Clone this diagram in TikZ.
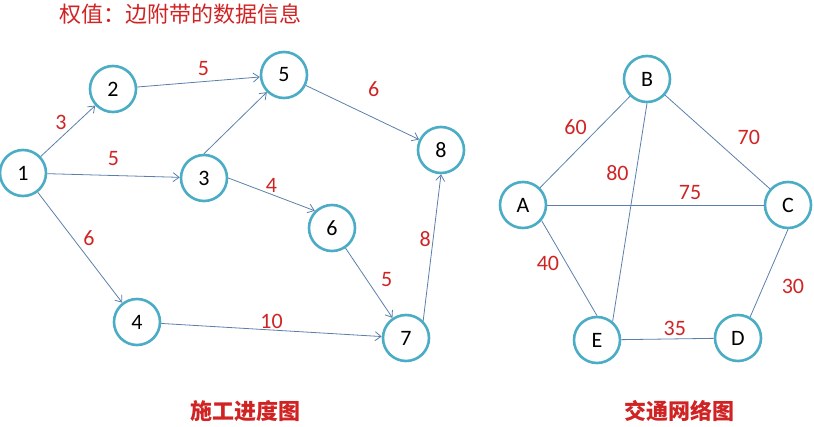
\documentclass[tikz,border=0pt]{standalone}
\usepackage{fontspec}
\setmainfont{Carlito}
\newfontfamily\cjk{Noto Sans CJK SC}
\usetikzlibrary{positioning,arrows.meta}
\definecolor{ring}{HTML}{4BACC6}
\definecolor{edgeblue}{HTML}{5B7FAA}
\definecolor{wtred}{HTML}{D02424}
\begin{document}
\begin{tikzpicture}[x=1pt, y=-1pt, vertex/.style={circle, draw = ring, line width = 2.6pt, minimum size = 46pt, inner sep = 0pt, font = \fontsize{22}{22}\selectfont}, arc/.style={draw = edgeblue, line width = .8pt, -{Straight Barb[length=6pt, width=9pt]}}, link/.style={draw = edgeblue, line width = .8pt}, wt/.style={text = wtred, inner sep = 1pt, font = \fontsize{22}{22}\selectfont}, caption/.style={text = wtred, font = \cjk\bfseries\fontsize{22}{22}\selectfont}]
\useasboundingbox (0,0) rectangle (814,426);
\node(title) [text = wtred, font = \cjk\fontsize{22}{22}\selectfont, anchor = west] at (56,14) {权值：边附带的数据信息};
\node(n1) [vertex] at (23,173) {1};
\node(n2) [vertex] at (113,89) {2};
\node(n3) [vertex] at (204,178) {3};
\node(n4) [vertex] at (137,322) {4};
\node(n5) [vertex] at (284,75) {5};
\node(n6) [vertex] at (332,228) {6};
\node(n7) [vertex] at (406,338) {7};
\node(n8) [vertex] at (441,150) {8};
\node(nA) [vertex] at (523,205) {A};
\node(nB) [vertex] at (647,79) {B};
\node(nC) [vertex] at (788,205) {C};
\node(nD) [vertex] at (738,338) {D};
\node(nE) [vertex] at (597,340) {E};
\node(cap1) [caption] at (245,411) {施工进度图};
\node(cap2) [caption] at (679,411) {交通网络图};

\draw[arc] (n1)--node[wt, above left = 0pt] {3} (n2);
\draw[arc] (n2)--node[wt, pos = .54, above = 5pt] {5} (n5);
\draw[arc] (n1)--node[wt, above = 8pt] {5} (n3);
\draw[arc] (n1)--node[wt, above right = 0pt and 2pt] {6} (n4);
\draw[arc] (n3.north)--(n5.-135);
\draw[arc] (n5)--node[wt, pos = .6, above = 20pt] {6} (n8);
\draw[arc] (n3.east)--node[wt, above = 1pt] {4} (n6.north west);
\draw[arc] (n6)--node[wt, pos = .45, right = 13pt] {5} (n7);
\draw[arc] (n4)--node[wt, above = 0pt] {10} (n7);
\draw[arc] (n7.north east)--node[wt, above left = 0pt] {8} (n8.south);
\draw[link] (nA)--node[wt, pos = .55, above left = 2pt] {60} (nB);
\draw[link] (nB)--node[wt, pos = .45, right = 24pt] {70} (nC);
\draw[link] (nB.south)--node[wt, pos = .32, left = 6pt] {80} (nE.50);
\draw[link] (nA)--node[wt, pos = .66, above = 4pt] {75} (nC);
\draw[link] (nA.-40)--node[wt, pos = .45, left = 6pt] {40} (nE.north);
\draw[link] (nE)--node[wt, pos = .58, above = 2pt] {35} (nD);
\draw[link] (nC.south)--node[wt, pos = .65, right = 17pt] {30} (nD.60);
\end{tikzpicture}
\end{document}
